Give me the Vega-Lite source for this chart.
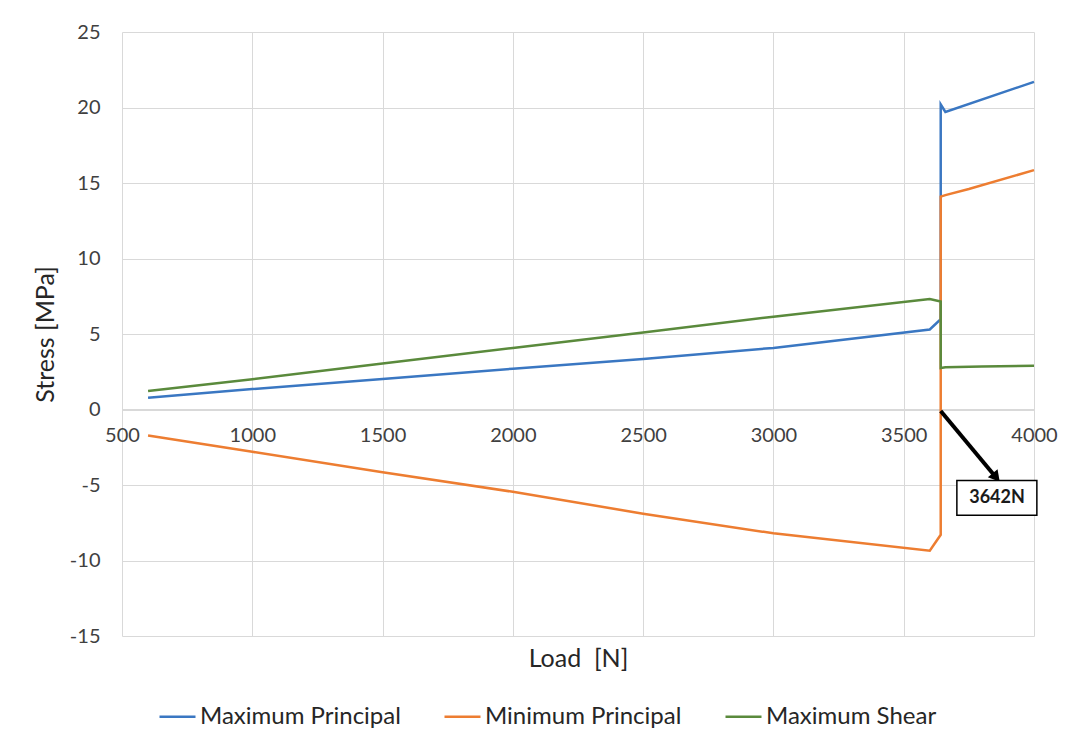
{
  "$schema": "https://vega.github.io/schema/vega-lite/v6.json",
  "autosize": "none",
  "width": 912,
  "height": 604,
  "padding": {"left": 122, "top": 32, "right": 38, "bottom": 106},
  "background": "white",
  "config": {
    "view": {"stroke": null},
    "font": "Lato",
    "axis": {"gridColor": "#d9d9d9", "gridWidth": 1, "labelColor": "#404040", "titleColor": "#262626", "labelFont": "Lato", "titleFont": "Lato", "titleFontWeight": "normal"}
  },
  "datasets": {
    "stress": [
      {"load": 600, "stress": 0.78, "series": "Maximum Principal", "step": 1},
      {"load": 1000, "stress": 1.35, "series": "Maximum Principal", "step": 2},
      {"load": 1500, "stress": 2.02, "series": "Maximum Principal", "step": 3},
      {"load": 2000, "stress": 2.7, "series": "Maximum Principal", "step": 4},
      {"load": 2500, "stress": 3.35, "series": "Maximum Principal", "step": 5},
      {"load": 3000, "stress": 4.08, "series": "Maximum Principal", "step": 6},
      {"load": 3600, "stress": 5.3, "series": "Maximum Principal", "step": 7},
      {"load": 3642, "stress": 5.98, "series": "Maximum Principal", "step": 8},
      {"load": 3642, "stress": 20.2, "series": "Maximum Principal", "step": 9},
      {"load": 3660, "stress": 19.7, "series": "Maximum Principal", "step": 10},
      {"load": 4000, "stress": 21.7, "series": "Maximum Principal", "step": 11},
      {"load": 600, "stress": -1.72, "series": "Minimum Principal", "step": 1},
      {"load": 1000, "stress": -2.8, "series": "Minimum Principal", "step": 2},
      {"load": 1500, "stress": -4.15, "series": "Minimum Principal", "step": 3},
      {"load": 2000, "stress": -5.45, "series": "Minimum Principal", "step": 4},
      {"load": 2500, "stress": -6.9, "series": "Minimum Principal", "step": 5},
      {"load": 3000, "stress": -8.2, "series": "Minimum Principal", "step": 6},
      {"load": 3600, "stress": -9.35, "series": "Minimum Principal", "step": 7},
      {"load": 3642, "stress": -8.3, "series": "Minimum Principal", "step": 8},
      {"load": 3642, "stress": 14.1, "series": "Minimum Principal", "step": 9},
      {"load": 3660, "stress": 14.2, "series": "Minimum Principal", "step": 10},
      {"load": 3750, "stress": 14.6, "series": "Minimum Principal", "step": 11},
      {"load": 4000, "stress": 15.85, "series": "Minimum Principal", "step": 12},
      {"load": 600, "stress": 1.22, "series": "Maximum Shear", "step": 1},
      {"load": 1000, "stress": 2.0, "series": "Maximum Shear", "step": 2},
      {"load": 1500, "stress": 3.05, "series": "Maximum Shear", "step": 3},
      {"load": 2000, "stress": 4.08, "series": "Maximum Shear", "step": 4},
      {"load": 2500, "stress": 5.1, "series": "Maximum Shear", "step": 5},
      {"load": 3000, "stress": 6.15, "series": "Maximum Shear", "step": 6},
      {"load": 3600, "stress": 7.32, "series": "Maximum Shear", "step": 7},
      {"load": 3642, "stress": 7.15, "series": "Maximum Shear", "step": 8},
      {"load": 3642, "stress": 2.75, "series": "Maximum Shear", "step": 9},
      {"load": 3660, "stress": 2.8, "series": "Maximum Shear", "step": 10},
      {"load": 3800, "stress": 2.85, "series": "Maximum Shear", "step": 11},
      {"load": 4000, "stress": 2.9, "series": "Maximum Shear", "step": 12}
    ],
    "callout": [
      {"load": 3642, "stress": -0.1, "tipLoad": 3845, "tipStress": -4.3, "headLoad": 3855, "headStress": -4.5, "boxLeft": 3704, "boxRight": 4011, "boxTop": -4.7, "boxBottom": -7.0, "labelLoad": 3858, "labelStress": -5.85, "label": "3642N"}
    ]
  },
  "layer": [
    {
      "data": {"name": "stress"},
      "mark": {"type": "line", "strokeWidth": 2.5},
      "encoding": {
        "x": {
          "field": "load", "type": "quantitative",
          "scale": {"domain": [500, 4000], "nice": false, "zero": false},
          "axis": {
            "values": [500, 1000, 1500, 2000, 2500, 3000, 3500, 4000],
            "labelExpr": "'' + datum.value", "labelFlush": false,
            "title": "Load\u00a0\u00a0[N]", "titleFontSize": 25, "titleBaseline": "middle", "titleY": 249,
            "labelFontSize": 20, "labelPadding": 16, "tickSize": 0,
            "offset": -227, "domainColor": "#d9d9d9", "domainWidth": 1
          }
        },
        "y": {
          "field": "stress", "type": "quantitative",
          "scale": {"domain": [-15, 25], "nice": false},
          "axis": {
            "values": [-15, -10, -5, 0, 5, 10, 15, 20, 25],
            "labelExpr": "'' + datum.value",
            "title": "Stress [MPa]", "titleFontSize": 25, "titlePadding": 11,
            "labelFontSize": 20, "labelPadding": 22, "tickSize": 0, "domain": false
          }
        },
        "color": {
          "field": "series", "type": "nominal",
          "scale": {"domain": ["Maximum Principal", "Minimum Principal", "Maximum Shear"], "range": ["#3a77c2", "#ed7d31", "#5a8a3c"]},
          "legend": {
            "title": null, "orient": "none", "direction": "horizontal",
            "legendX": 36, "legendY": 665,
            "symbolType": "stroke", "symbolSize": 1296, "symbolStrokeWidth": 2.5,
            "labelFontSize": 24, "labelFont": "Lato", "labelColor": "#262626", "labelOffset": 3, "labelLimit": 0, "columnPadding": 38
          }
        },
        "order": {"field": "step", "type": "quantitative"}
      }
    },
    {
      "data": {"name": "callout"},
      "mark": {"type": "rule", "color": "black", "strokeWidth": 4},
      "encoding": {
        "x": {"field": "load", "type": "quantitative"},
        "y": {"field": "stress", "type": "quantitative"},
        "x2": {"field": "tipLoad"},
        "y2": {"field": "tipStress"}
      }
    },
    {
      "data": {"name": "callout"},
      "mark": {"type": "point", "shape": "triangle-up", "filled": true, "color": "black", "size": 160, "angle": 140, "opacity": 1},
      "encoding": {
        "x": {"field": "headLoad", "type": "quantitative"},
        "y": {"field": "headStress", "type": "quantitative"}
      }
    },
    {
      "data": {"name": "callout"},
      "mark": {"type": "rect", "fill": "white", "stroke": "black", "strokeWidth": 1.5},
      "encoding": {
        "x": {"field": "boxLeft", "type": "quantitative"},
        "x2": {"field": "boxRight"},
        "y": {"field": "boxTop", "type": "quantitative"},
        "y2": {"field": "boxBottom"}
      }
    },
    {
      "data": {"name": "callout"},
      "mark": {"type": "text", "font": "Lato", "fontWeight": "bold", "fontSize": 18, "color": "#1a1a1a", "align": "center", "baseline": "middle"},
      "encoding": {
        "x": {"field": "labelLoad", "type": "quantitative"},
        "y": {"field": "labelStress", "type": "quantitative"},
        "text": {"field": "label"}
      }
    }
  ]
}
